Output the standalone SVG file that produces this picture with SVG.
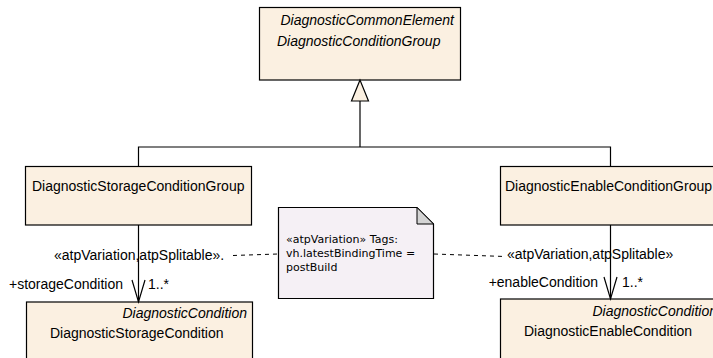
<svg xmlns="http://www.w3.org/2000/svg" width="713" height="358" viewBox="0 0 713 358">
<style>
.box{fill:#FBF0E1;stroke:#000;stroke-width:1.2}
.t{font-family:"Liberation Sans",Arial,sans-serif;font-size:14px;fill:#000}
.i{font-style:italic}
.n{font-family:"DejaVu Sans",sans-serif;font-size:11px;fill:#000}
.ln{fill:none;stroke:#000;stroke-width:1.2}
.dash{fill:none;stroke:#000;stroke-width:1;stroke-dasharray:4,4}
</style>
<rect width="713" height="358" fill="#fff"/>
<g id="DiagnosticConditionGroup">
<rect class="box" x="259.5" y="7.5" width="201" height="72.5"/>
<text class="t i" x="454" y="25" text-anchor="end">DiagnosticCommonElement</text>
<text class="t i" x="277" y="46">DiagnosticConditionGroup</text>
</g>
<g id="DiagnosticStorageConditionGroup">
<rect class="box" x="25.5" y="166.5" width="226" height="58.5"/>
<text class="t" x="32" y="191">DiagnosticStorageConditionGroup</text>
</g>
<g id="DiagnosticEnableConditionGroup">
<rect class="box" x="500.5" y="166.5" width="230" height="58.5"/>
<text class="t" x="505" y="191">DiagnosticEnableConditionGroup</text>
</g>
<g id="DiagnosticStorageCondition">
<rect class="box" x="26.5" y="302" width="226" height="70"/>
<text class="t i" x="247" y="318" text-anchor="end">DiagnosticCondition</text>
<text class="t" x="50" y="338">DiagnosticStorageCondition</text>
</g>
<g id="DiagnosticEnableCondition">
<rect class="box" x="500.5" y="299" width="222" height="70"/>
<text class="t i" x="717" y="316" text-anchor="end">DiagnosticCondition</text>
<text class="t" x="524" y="336">DiagnosticEnableCondition</text>
</g>
<g id="note">
<polygon points="278.5,207.5 417,207.5 433.5,224 433.5,298.5 278.5,298.5" fill="#F5F0F5" stroke="#000" stroke-width="1.2"/>
<polygon points="417,207.5 433.5,224 417,224" fill="#D4D4D4" stroke="#000" stroke-width="1"/>
<text class="n" x="286" y="243">«atpVariation» Tags:</text>
<text class="n" x="286" y="257">vh.latestBindingTime =</text>
<text class="n" x="286" y="271">postBuild</text>
</g>
<g id="connectors">
<polyline class="ln" points="138.5,166.5 138.5,147 610.5,147 610.5,166.5"/>
<line class="ln" x1="360" y1="147" x2="360" y2="101"/>
<polygon points="360,80 351.5,101 368.5,101" fill="#FBF0E1" stroke="#000" stroke-width="1.2"/>
<line class="ln" x1="138.5" y1="225" x2="138.5" y2="302"/>
<polyline class="ln" points="132,280 138.5,302 145,280"/>
<line class="ln" x1="610.5" y1="225" x2="610.5" y2="299"/>
<polyline class="ln" points="604,277 610.5,299 617,277"/>
<line class="dash" x1="233" y1="255.5" x2="278" y2="254"/>
<line class="dash" x1="434" y1="254" x2="505" y2="256.5"/>
<text class="t" x="54" y="260">«atpVariation,atpSplitable».</text>
<text class="t" x="507" y="259">«atpVariation,atpSplitable»</text>
<text class="t" x="123" y="289" text-anchor="end">+storageCondition</text>
<text class="t" x="148" y="289">1..*</text>
<text class="t" x="598" y="287" text-anchor="end">+enableCondition</text>
<text class="t" x="622" y="287">1..*</text>
</g>
</svg>
